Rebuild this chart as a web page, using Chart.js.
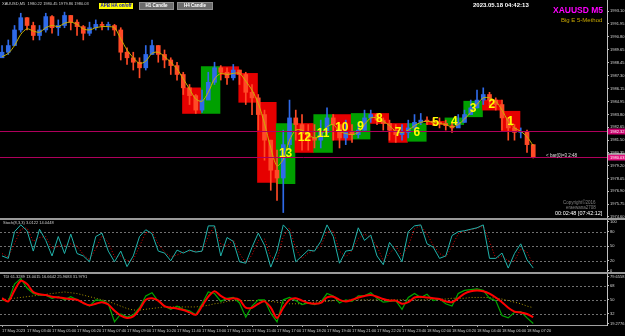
<!DOCTYPE html>
<html>
<head>
<meta charset="utf-8">
<script src="https://cdn.jsdelivr.net/npm/chart.js@4.4.0/dist/chart.umd.min.js"></script>
<style>
  body { margin: 0; background: #000; }
  #wrap { position: relative; width: 625px; height: 336px; background: #000; overflow: hidden; font-family: "Liberation Sans", Arial, sans-serif; }
  .pane { position: absolute; left: 0; width: 625px; }
  .txt { position: absolute; white-space: nowrap; line-height: 1; }
  .btn { position: absolute; height: 6px; top: 3px; font-size: 4.5px; font-weight: bold; line-height: 6px; text-align: center; white-space: nowrap; }
  .sep { position: absolute; left: 0; width: 625px; height: 2px; background: #9a9a9a; }
</style>
</head>
<body>
<div id="wrap">
  <div class="pane" style="top:0;height:218px"><canvas id="mainChart"></canvas></div>
  <div class="sep" style="top:218px"></div>
  <div class="pane" style="top:220px;height:52px"><canvas id="stochChart"></canvas></div>
  <div class="sep" style="top:272px"></div>
  <div class="pane" style="top:274px;height:62px"><canvas id="tdiChart"></canvas></div>

  <div class="txt" style="left:2px;top:2px;font-size:4px;color:#d0d0d0">XAUUSD,M5&nbsp; 1980.22 1980.45 1979.86 1980.03</div>
  <div class="btn" style="left:99px;width:34px;background:#ffff00;color:#1010c0">APB HA on/off</div>
  <div class="btn" style="left:139px;width:33px;background:#6c6c6c;color:#fff;border:1px solid #909090;top:2px">H1 Candle</div>
  <div class="btn" style="left:177px;width:34px;background:#6c6c6c;color:#fff;border:1px solid #909090;top:2px">H4 Candle</div>
  <div class="txt" style="left:473px;top:2px;font-size:6px;font-weight:bold;color:#ffffff">2023.05.18 04:42:13</div>
  <div class="txt" style="left:553px;top:6px;font-size:8.5px;font-weight:bold;color:#ff00ff">XAUUSD M5</div>
  <div class="txt" style="left:561px;top:17px;font-size:6px;color:#c8a800">Big E 5-Method</div>
  <div class="txt" style="left:546px;top:154px;font-size:4.5px;color:#e0e0e0">&lt; bar(0)=3 2:48</div>
  <div class="txt" style="left:563px;top:201px;font-size:4.5px;color:#808080">Copyright&copy;2016</div>
  <div class="txt" style="left:566px;top:206px;font-size:4.5px;color:#808080">eraewana2708</div>
  <div class="txt" style="left:555px;top:211px;font-size:5.5px;color:#ffffff">00:02:48 [07:42:12]</div>
  <div class="txt" style="left:3px;top:221px;font-size:4px;color:#d0d0d0">Stoch(8,3,3) 3.0122 14.0448</div>
  <div class="txt" style="left:3px;top:275px;font-size:4px;color:#d0d0d0">TDI 61.3289 13.0015 16.6642 25.9683 31.9791</div>
</div>

<script>
// time axis: one M5 bar per unit, bar 0 = 17 May 02:20
const timeLabels = ['17 May 2023', '17 May 03:40', '17 May 05:00', '17 May 06:20', '17 May 07:40', '17 May 09:00',
  '17 May 10:20', '17 May 11:40', '17 May 13:00', '17 May 14:20', '17 May 15:40', '17 May 17:00', '17 May 18:20',
  '17 May 19:40', '17 May 21:00', '17 May 22:20', '17 May 23:40', '18 May 02:00', '18 May 03:20', '18 May 04:40',
  '18 May 06:00', '18 May 07:20'];
const barsPerLabel = 16;
const barsPerSample = 4; // one candle below = 20 minutes

const priceTicks = [1993.10, 1991.95, 1990.80, 1989.65, 1988.45, 1987.30, 1986.15, 1984.95, 1983.80,
  1982.65, 1981.50, 1980.35, 1979.20, 1978.05, 1976.90, 1975.75, 1974.60];
const stochTicks = [100, 80, 50, 20, 0];
const tdiTicks = [79.6558, 68, 50, 32, 19.2776];

const firstOpen = 1988.9;
const closes = [1989.4, 1990.0, 1991.4, 1992.5, 1991.8, 1990.9, 1991.4, 1992.6, 1991.6, 1991.8,
  1992.7, 1992.1, 1991.7, 1991.1, 1991.6, 1991.9, 1991.8, 1991.8, 1991.4, 1989.4,
  1988.9, 1988.5, 1988.0, 1989.2, 1990.0, 1989.2, 1988.7, 1988.2, 1987.4, 1986.2,
  1985.5, 1984.2, 1985.1, 1986.7, 1988.0, 1987.6, 1987.1, 1987.8, 1987.4, 1985.8,
  1985.3, 1983.8, 1981.5, 1978.8, 1978.1, 1981.1, 1983.5, 1982.9, 1982.1, 1981.7,
  1981.5, 1982.2, 1983.5, 1982.9, 1981.7, 1982.2, 1982.0, 1982.4, 1983.5, 1983.8,
  1983.3, 1983.0, 1982.4, 1982.0, 1982.2, 1982.6, 1983.1, 1983.3, 1983.2, 1983.1,
  1983.0, 1982.8, 1982.6, 1983.1, 1983.8, 1984.4, 1985.1, 1985.6, 1985.1, 1984.7,
  1983.5, 1982.6, 1982.2, 1982.2, 1981.1, 1980.0];
const highs = [1990.0, 1990.5, 1991.8, 1992.9, 1992.5, 1992.1, 1991.8, 1992.9, 1992.7, 1992.3,
  1993.0, 1992.7, 1992.3, 1991.8, 1992.1, 1992.3, 1992.1, 1992.1, 1991.9, 1991.6,
  1989.8, 1989.4, 1988.9, 1990.0, 1990.5, 1990.0, 1989.6, 1988.9, 1988.5, 1987.6,
  1986.5, 1985.6, 1986.0, 1987.6, 1988.5, 1988.2, 1988.0, 1988.3, 1987.8, 1987.6,
  1986.5, 1985.6, 1984.2, 1981.5, 1980.6, 1982.4, 1985.1, 1984.2, 1983.8, 1982.9,
  1982.9, 1983.3, 1984.4, 1983.8, 1982.9, 1983.3, 1982.9, 1983.1, 1984.2, 1984.2,
  1983.9, 1983.5, 1983.3, 1982.9, 1982.9, 1983.3, 1983.8, 1983.9, 1983.6, 1983.5,
  1983.5, 1983.3, 1983.1, 1983.8, 1984.2, 1985.1, 1986.0, 1986.2, 1985.8, 1985.3,
  1985.1, 1983.5, 1982.9, 1982.6, 1982.4, 1981.1];
const lows = [1988.9, 1989.2, 1990.0, 1991.2, 1991.4, 1990.5, 1990.5, 1991.2, 1991.1, 1990.9,
  1991.6, 1991.4, 1990.9, 1990.5, 1990.9, 1991.4, 1991.4, 1991.4, 1990.9, 1988.7,
  1988.3, 1987.8, 1987.1, 1987.8, 1989.2, 1988.5, 1988.0, 1987.4, 1986.9, 1985.6,
  1984.7, 1983.9, 1984.0, 1985.6, 1986.5, 1986.9, 1986.5, 1986.9, 1986.5, 1984.7,
  1983.8, 1982.4, 1979.7, 1977.0, 1976.1, 1975.0, 1980.6, 1981.5, 1980.6, 1980.6,
  1980.8, 1980.8, 1982.0, 1981.5, 1980.8, 1981.1, 1981.3, 1981.7, 1982.4, 1983.1,
  1982.9, 1982.4, 1981.5, 1981.3, 1981.5, 1981.7, 1982.4, 1982.9, 1982.9, 1982.8,
  1982.6, 1982.4, 1982.2, 1982.7, 1983.1, 1983.8, 1984.4, 1984.7, 1984.6, 1984.2,
  1982.4, 1981.5, 1981.5, 1981.7, 1980.4, 1979.9];
const maLine = [1989.0, 1989.3, 1990.0, 1991.0, 1991.5, 1991.3, 1991.2, 1991.6, 1991.8, 1991.7,
  1992.0, 1992.1, 1991.9, 1991.5, 1991.4, 1991.6, 1991.7, 1991.7, 1991.6, 1990.6,
  1989.6, 1988.9, 1988.4, 1988.6, 1989.3, 1989.4, 1989.0, 1988.5, 1987.9, 1987.0,
  1986.1, 1985.2, 1985.0, 1985.8, 1987.0, 1987.5, 1987.4, 1987.5, 1987.5, 1986.8,
  1986.0, 1984.8, 1983.0, 1980.8, 1979.2, 1979.8, 1981.5, 1982.4, 1982.4, 1982.0,
  1981.7, 1981.9, 1982.7, 1982.9, 1982.3, 1982.1, 1982.0, 1982.2, 1982.9, 1983.5,
  1983.5, 1983.2, 1982.8, 1982.3, 1982.2, 1982.4, 1982.8, 1983.1, 1983.2, 1983.1,
  1983.0, 1982.9, 1982.7, 1982.9, 1983.4, 1984.0, 1984.7, 1985.3, 1985.3, 1985.0,
  1984.2, 1983.2, 1982.6, 1982.3, 1981.8, 1981.0];

// H1 Heiken Ashi boxes
const h1Times = ['17 May 12:00', '17 May 13:00', '17 May 14:00', '17 May 15:00', '17 May 16:00', '17 May 17:00',
  '17 May 18:00', '17 May 19:00', '17 May 20:00', '17 May 21:00', '17 May 22:00', '17 May 23:00',
  '18 May 01:00', '18 May 02:00', '18 May 03:00', '18 May 04:00', '18 May 05:00', '18 May 06:00'];
const h1Open = [1986.2, 1983.9, 1988.1, 1987.5, 1984.9, 1977.6, 1983.0, 1980.4, 1983.8, 1981.6, 1983.9, 1983.0,
  1981.4, 1983.2, 1982.9, 1983.6, 1985.1, 1984.1];
const h1Close = [1983.9, 1988.1, 1987.4, 1984.9, 1977.7, 1983.0, 1980.4, 1983.8, 1981.5, 1983.9, 1983.0, 1981.3,
  1983.0, 1982.9, 1983.5, 1985.0, 1984.2, 1982.3];
const h1Count = [null, null, null, null, null, 13, 12, 11, 10, 9, 8, 7, 6, 5, 4, 3, 2, 1];

const magentaLevels = [1982.32, 1980.03];

const stochMain = [30, 25, 80, 94, 82, 40, 85, 62, 30, 70,
  35, 75, 35, 30, 18, 70, 77, 40, 18, 40,
  8, 30, 70, 84, 76, 40, 36, 20, 42, 36,
  42, 38, 40, 92, 92, 30, 68, 60, 18, 15,
  48, 77, 52, 7, 40, 94, 80, 18, 30, 42,
  40, 60, 94, 70, 15, 40, 42, 88, 62, 73,
  30, 12, 58, 40, 18, 80, 92, 94, 55, 48,
  25, 30, 72, 80, 82, 85, 88, 94, 25, 25,
  36, 5, 35, 55, 22, 5];
const stochSignal = [35, 28, 55, 85, 88, 60, 68, 70, 45, 50,
  52, 55, 50, 33, 22, 45, 72, 58, 28, 30,
  20, 22, 50, 78, 80, 55, 38, 28, 32, 38,
  40, 40, 39, 70, 92, 55, 50, 64, 35, 16,
  32, 62, 65, 28, 22, 70, 88, 45, 24, 36,
  42, 50, 80, 82, 40, 28, 41, 66, 75, 68,
  50, 20, 35, 50, 30, 50, 86, 93, 75, 52,
  35, 28, 50, 76, 81, 84, 87, 91, 60, 25,
  30, 20, 20, 45, 38, 12];

const tdiPrice = [50, 48, 70, 77, 65, 58, 56, 56, 52, 54,
  50, 54, 50, 46, 42, 50, 49, 45, 22, 32,
  28, 31, 40, 55, 59, 48, 42, 38, 42, 38,
  36, 31, 45, 60, 58, 48, 52, 53, 46, 28,
  42, 50, 50, 33, 22, 50, 53, 49, 44, 46,
  44, 47, 58, 55, 46, 50, 48, 55, 55, 59,
  52, 47, 48, 49, 38, 53, 58, 53, 57, 49,
  51, 45, 42, 58, 62, 63, 64, 62, 52, 49,
  30, 27, 34, 35, 27, 20];
const tdiSignal = [52, 48, 62, 74, 70, 60, 57, 56, 54, 53,
  52, 51, 50, 46, 43, 45, 47, 44, 36, 30,
  27, 29, 38, 50, 52, 49, 42, 40, 39, 37,
  34, 31, 42, 54, 61, 55, 51, 52, 50, 40,
  40, 45, 48, 40, 27, 40, 50, 52, 49, 46,
  45, 46, 53, 54, 50, 48, 50, 53, 55, 56,
  54, 51, 49, 49, 45, 47, 53, 54, 53, 52,
  51, 48, 47, 52, 58, 61, 62, 61, 58, 53,
  47, 40, 35, 34, 32, 28];
const tdiBase = [50, 51, 52, 53, 54, 55, 56, 57, 58, 59,
  60, 59, 58, 56, 54, 52, 50, 48, 45, 42,
  39, 37, 37, 38, 39, 40, 41, 41, 41, 41,
  41, 41, 42, 43, 45, 46, 48, 49, 49, 49,
  49, 49, 49, 48, 47, 46, 45, 45, 45, 46,
  47, 48, 48, 49, 49, 49, 50, 50, 50, 50,
  50, 50, 50, 50, 50, 50, 50, 50, 50, 51,
  51, 51, 52, 52, 52, 53, 53, 53, 53, 52,
  51, 49, 47, 45, 42, 40];

// bar index of a time like '18 May 01:00' (no quotes 00:00-01:00)
function barOf(t) {
  const parts = t.split(' ');
  const day = Number(parts[0]);
  const hm = parts[2].split(':').map(Number);
  let bar = ((day - 17) * 1440 + hm[0] * 60 + hm[1] - 140) / 5;
  if (day === 18) bar -= 12;
  return bar;
}

const xMin = -1.3, xMax = 387.2;
const smallFont = { size: 4, family: 'Liberation Sans' };

function pts(arr) {
  return arr.map((v, i) => ({ x: i * barsPerSample, y: v }));
}

function xAxis(show) {
  const axis = {
    type: 'linear', min: xMin, max: xMax, offset: false, display: show,
    grid: { display: show, drawOnChartArea: false, color: '#a0a0a0', tickLength: 2 },
    border: { display: show, color: '#a0a0a0' },
    afterBuildTicks: s => { s.ticks = timeLabels.map((t, k) => ({ value: k * barsPerLabel })); },
    ticks: {
      autoSkip: false, maxRotation: 0, align: 'start', padding: 1, color: '#d0d0d0', font: smallFont,
      callback: (v, idx) => timeLabels[idx]
    }
  };
  if (show) {
    axis.afterFit = s => { s.height = 11; s.paddingLeft = 0; s.paddingRight = 0; };
  }
  return axis;
}

function yAxis(min, max, ticks, fmt) {
  return {
    position: 'right', min: min, max: max,
    afterBuildTicks: s => { s.ticks = ticks.map(v => ({ value: v })); },
    afterFit: s => { s.width = 18; s.paddingTop = 0; s.paddingBottom = 0; },
    grid: { drawOnChartArea: false, color: '#c0c0c0', tickLength: 2 },
    border: { display: true, color: '#c0c0c0' },
    ticks: { autoSkip: false, padding: 1, color: '#d8d8d8', font: smallFont, callback: fmt }
  };
}

const levelPlugin = {
  id: 'levels',
  beforeDatasetsDraw(chart, args, opts) {
    const ctx = chart.ctx, area = chart.chartArea, y = chart.scales.y;
    ctx.save();
    ctx.strokeStyle = opts.color || '#707070';
    ctx.lineWidth = 1;
    ctx.setLineDash([2, 2]);
    (opts.values || []).forEach(v => {
      const py = Math.round(y.getPixelForValue(v)) + 0.5;
      ctx.beginPath();
      ctx.moveTo(area.left, py);
      ctx.lineTo(area.right, py);
      ctx.stroke();
    });
    ctx.restore();
  }
};

const mainOverlay = {
  id: 'mainOverlay',
  afterDatasetsDraw(chart) {
    const ctx = chart.ctx, area = chart.chartArea, y = chart.scales.y;
    ctx.save();
    // magenta horizontal lines and their price tags
    magentaLevels.forEach((v, k) => {
      const py = Math.round(y.getPixelForValue(v)) + 0.5;
      ctx.strokeStyle = '#b0005c';
      ctx.lineWidth = 1;
      ctx.beginPath();
      ctx.moveTo(area.left, py);
      ctx.lineTo(area.right, py);
      ctx.stroke();
      ctx.fillStyle = k === 0 ? '#c8006c' : '#e0107c';
      ctx.fillRect(area.right + 1, py - 3, 17, 6);
      ctx.fillStyle = '#ffffff';
      ctx.font = '4px "Liberation Sans"';
      ctx.textBaseline = 'middle';
      ctx.textAlign = 'left';
      ctx.fillText(v.toFixed(2), area.right + 3, py);
      if (k === 1) {
        ctx.strokeStyle = '#ffffff';
        ctx.beginPath();
        ctx.moveTo(area.right + 1, py - 3.5);
        ctx.lineTo(area.right + 18, py - 3.5);
        ctx.stroke();
      }
    });
    // numbers on H1 boxes
    const meta = chart.getDatasetMeta(0);
    ctx.fillStyle = '#ffff00';
    ctx.font = 'bold 12px "Liberation Sans"';
    ctx.textAlign = 'center';
    ctx.textBaseline = 'middle';
    meta.data.forEach((el, k) => {
      if (h1Count[k] === null) return;
      ctx.fillText(String(h1Count[k]), el.x, (el.y + el.base) / 2);
    });
    ctx.restore();
  }
};

const opens = closes.map((c, i) => i === 0 ? firstOpen : closes[i - 1]);
const candleColors = closes.map((c, i) => c >= opens[i] ? '#2f6ae8' : '#ff4a26');

new Chart(document.getElementById('mainChart'), {
  type: 'bar',
  data: {
    datasets: [
      {
        label: 'H1 HA',
        data: h1Times.map((t, k) => ({ x: barOf(t) + 5.5, y: [h1Open[k], h1Close[k]] })),
        backgroundColor: h1Times.map((t, k) => h1Close[k] >= h1Open[k] ? '#00a000' : '#e60000'),
        barThickness: 18.75, grouped: false, order: 5
      },
      {
        label: 'wicks',
        data: closes.map((c, i) => ({ x: i * barsPerSample, y: [lows[i], highs[i]] })),
        backgroundColor: candleColors,
        barThickness: 1, grouped: false, order: 4
      },
      {
        label: 'M5',
        data: closes.map((c, i) => ({ x: i * barsPerSample, y: [opens[i], c] })),
        backgroundColor: candleColors,
        barThickness: 4, minBarLength: 1, grouped: false, order: 3
      },
      {
        type: 'line', label: 'MA',
        data: pts(maLine),
        borderColor: '#c8b400', borderWidth: 1, pointRadius: 0, tension: 0.3, order: 1
      }
    ]
  },
  options: {
    responsive: true, maintainAspectRatio: false, animation: false, events: [],
    layout: { padding: 0 },
    plugins: { legend: { display: false }, tooltip: { enabled: false } },
    scales: {
      x: xAxis(false),
      y: yAxis(1974.51, 1994.09, priceTicks, v => v.toFixed(2))
    }
  },
  plugins: [mainOverlay]
});

new Chart(document.getElementById('stochChart'), {
  type: 'line',
  data: {
    datasets: [
      { data: pts(stochMain), borderColor: '#20b2aa', borderWidth: 1, pointRadius: 0 },
      { data: pts(stochSignal), borderColor: '#e00000', borderWidth: 1, borderDash: [1, 2], pointRadius: 0 }
    ]
  },
  options: {
    responsive: true, maintainAspectRatio: false, animation: false, events: [],
    layout: { padding: 0 },
    plugins: { legend: { display: false }, tooltip: { enabled: false }, levels: { values: [80, 50, 20] } },
    scales: {
      x: xAxis(false),
      y: yAxis(-3.1, 104.1, stochTicks, v => String(v))
    }
  },
  plugins: [levelPlugin]
});

new Chart(document.getElementById('tdiChart'), {
  type: 'line',
  data: {
    datasets: [
      { data: pts(tdiPrice), borderColor: '#00a800', borderWidth: 1.2, pointRadius: 0, order: 2 },
      { data: pts(tdiSignal), borderColor: '#ff0000', borderWidth: 2, pointRadius: 0, tension: 0.3, order: 1 },
      { data: pts(tdiBase), borderColor: '#a89400', borderWidth: 1, borderDash: [1, 2], pointRadius: 0, order: 3 }
    ]
  },
  options: {
    responsive: true, maintainAspectRatio: false, animation: false, events: [],
    layout: { padding: 0 },
    plugins: { legend: { display: false }, tooltip: { enabled: false }, levels: { values: [68, 50, 32] } },
    scales: {
      x: xAxis(true),
      y: yAxis(18.0, 82.83, tdiTicks, v => (v % 1 === 0 ? String(v) : v.toFixed(4)))
    }
  },
  plugins: [levelPlugin]
});
</script>
</body>
</html>
